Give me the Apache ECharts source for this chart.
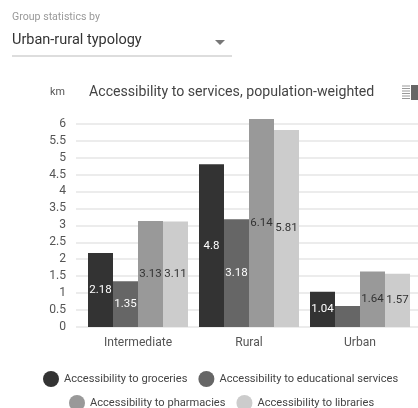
<!DOCTYPE html>
<html><head><meta charset="utf-8">
<style>html,body{margin:0;padding:0;background:#fff}#c{width:418px;height:408px}</style>
<script src="https://cdn.jsdelivr.net/npm/echarts@6/dist/echarts.min.js"></script>
</head><body><div id="c"></div>
<script>
const categories = ['Intermediate', 'Rural', 'Urban'];
const groceries = [2.18, 4.8, 1.04];
const educational = [1.35, 3.18, 0.62];
const pharmacies = [3.13, 6.14, 1.64];
const libraries = [3.11, 5.81, 1.57];
const seriesNames = ['Accessibility to groceries', 'Accessibility to educational services', 'Accessibility to pharmacies', 'Accessibility to libraries'];
const colors = ['#333333', '#666666', '#999999', '#cccccc'];
const labelColors = ['#ffffff', '#ffffff', '#333333', '#333333'];
const unit = 'km';
const title = 'Accessibility to services, population-weighted';
const selectLabel = 'Group statistics by';
const selectValue = 'Urban-rural typology';
const hiddenLabelMin = 1;

const font = 'Roboto, Arial, sans-serif';
const chart = echarts.init(document.getElementById('c'), null, {renderer: 'canvas'});
const gridTop = 106.7, gridHeight = 220.3;
const mkSeries = (data, i) => ({
  name: seriesNames[i], type: 'bar', xAxisIndex: 1, yAxisIndex: 1,
  data, barWidth: 25, barGap: '0%', z: 3,
  itemStyle: {color: colors[i]},
  label: {show: true, position: 'inside', color: labelColors[i], fontFamily: font, fontSize: 11.5,
    formatter: p => p.value < hiddenLabelMin ? '' : String(p.value)}
});
const legendBase = {
  icon: 'circle', itemWidth: 16, itemHeight: 16, itemGap: 11, orient: 'horizontal', width: 410,
  textStyle: {color: '#444', fontFamily: font, fontSize: 11.1}, selectedMode: false
};
chart.setOption({
  animation: false,
  backgroundColor: '#fff',
  color: colors,
  textStyle: {fontFamily: font},
  grid: [
    {left: 76, right: -20, top: gridTop, height: gridHeight},
    {left: 82.5, width: 333, top: gridTop, height: gridHeight}
  ],
  xAxis: [
    {gridIndex: 0, type: 'category', data: categories, show: false},
    {gridIndex: 1, type: 'category', data: categories, axisLine: {show: false}, axisTick: {show: false},
     axisLabel: {color: '#555', fontSize: 12.1, fontFamily: font, margin: 10}}
  ],
  yAxis: [
    {gridIndex: 0, type: 'value', min: 0, max: 6.5, interval: 0.5,
     axisLine: {show: false}, axisTick: {show: false},
     axisLabel: {color: '#555', fontSize: 12.1, fontFamily: font, margin: 10, showMaxLabel: false},
     splitLine: {show: true, showMaxLine: false, lineStyle: {color: '#e6e6e6', width: 1.5}}},
    {gridIndex: 1, type: 'value', min: 0, max: 6.5, interval: 0.5, show: false, splitLine: {show: false}}
  ],
  legend: [
    {...legendBase, data: seriesNames.slice(0, 2), left: 38, top: 366},
    {...legendBase, data: seriesNames.slice(2), left: 64, top: 390}
  ],
  series: [groceries, educational, pharmacies, libraries].map(mkSeries),
  graphic: [
    {type: 'text', left: 12, top: 12, style: {text: selectLabel, fill: '#999', font: '10.6px ' + font}},
    {type: 'text', left: 12, top: 33, style: {text: selectValue, fill: '#333', font: '14.5px ' + font}},
    {type: 'polygon', shape: {points: [[215, 40], [225, 40], [220, 45]]}, style: {fill: '#777'}},
    {type: 'line', shape: {x1: 12, y1: 56, x2: 232, y2: 56}, style: {stroke: '#bbb', lineWidth: 1}},
    {type: 'text', left: 50, top: 87, style: {text: unit, fill: '#555', font: '10.8px ' + font}},
    {type: 'text', left: 89, top: 85, style: {text: title, fill: '#444', font: '14.15px ' + font}},
    ...[86, 88.5, 91, 93.5, 96, 98.5].map(y => ({type: 'line', shape: {x1: 402, y1: y, x2: 410, y2: y}, style: {stroke: '#999', lineWidth: 1}})),
    {type: 'rect', shape: {x: 411, y: 85, width: 7, height: 15}, style: {fill: '#666'}}
  ]
});
</script></body></html>
